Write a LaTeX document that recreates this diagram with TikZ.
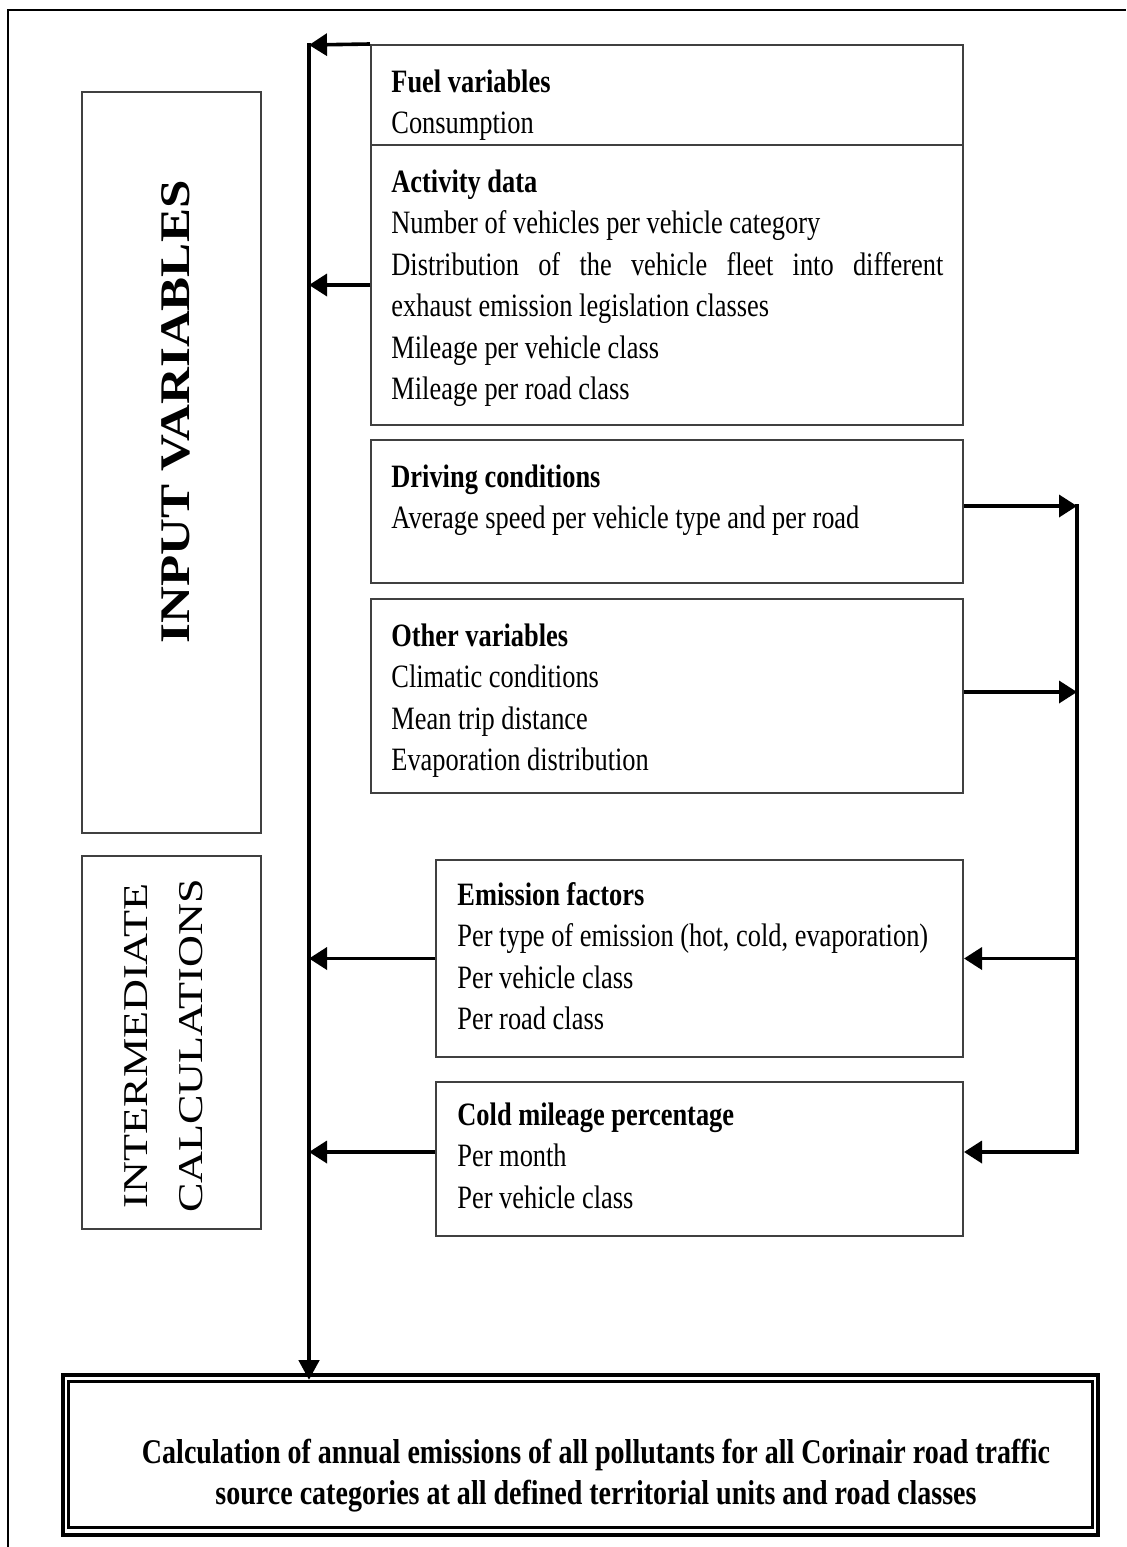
\documentclass[tikz,border=0pt]{standalone}
\usepackage{fontspec}
\setmainfont{Liberation Serif}[FakeStretch=0.81]
\newfontfamily\tallfont{Liberation Serif}[FakeStretch=1.21]
\newfontfamily\tallerfont{Liberation Serif}[FakeStretch=1.27]
\usepackage{tikz}
\usetikzlibrary{arrows.meta,positioning,calc,fit}

\begin{document}
\begin{tikzpicture}[x=0.5pt,y=-0.5pt,
	box/.style={draw=black!75,line width=1pt,inner sep=0pt},
	txt/.style={anchor=base west,inner sep=0pt,text width=280pt,align=left,font=\fontsize{16.3}{20.75}\selectfont,
		execute at begin node={\spaceskip=0pt\xspaceskip=0pt}},
	feed/.style={line width=1.8pt,-{Triangle[length=9pt,width=11pt]}},
	trunk/.style={line width=2.4pt,line cap=rect}]
	\useasboundingbox (0,0) rectangle (1126,1547);
	\draw[line width=1.3pt] (8,1547) -- (8,10) -- (1126,10);
	
	\node[box,fit={(82,92) (261,833)}] (inbox) {};
	\node[box,fit={(82,856) (261,1229)}] (calcbox) {};
	\node[rotate=90,font=\tallfont\bfseries\fontsize{21.1}{25}\selectfont] (inlabel) at (176,412) {INPUT VARIABLES};
	\node[rotate=90,align=center,font=\tallerfont\fontsize{17.4}{27.5}\selectfont] (calclabel) at (164,1046) {INTERMEDIATE\\CALCULATIONS};
	
	\node[box,fit={(371,45) (963,145)}] (fuel) {};
	\node[box,fit={(371,145) (963,425)}] (act) {};
	\node[box,fit={(371,440) (963,583)}] (drive) {};
	\node[box,fit={(371,599) (963,793)}] (other) {};
	\node[box,fit={(436,860) (963,1057)}] (emis) {};
	\node[box,fit={(436,1082) (963,1236)}] (cold) {};
	
	\node[txt] (fueltxt) at (391,92) {\textbf{Fuel variables}\\Consumption};
	\node[txt,text width=276pt] (acttxt) at (391,192) {\textbf{Activity data}\\Number of vehicles per vehicle category\\\makebox[276pt][s]{Distribution of the vehicle fleet into different}\\exhaust emission legislation classes\\Mileage per vehicle class\\Mileage per road class};
	\node[txt] (drivetxt) at (391,487) {\textbf{Driving conditions}\\Average speed per vehicle type and per road};
	\node[txt] (othertxt) at (391,646) {\textbf{Other variables}\\Climatic conditions\\Mean trip distance\\Evaporation distribution};
	\node[txt] (emistxt) at (457,905) {\textbf{Emission factors}\\Per type of emission (hot, cold, evaporation)\\Per vehicle class\\Per road class};
	\node[txt] (coldtxt) at (457,1125) {\textbf{Cold mileage percentage}\\Per month\\Per vehicle class};
	
	\node[draw,line width=2pt,inner sep=0pt,fit={(63,1375) (1098,1535)}] (resout) {};
	\node[draw,line width=1.5pt,inner sep=0pt,fit={(68.5,1381.5) (1092,1527)}] (result) {};
	\node[inner sep=0pt,align=center,font=\bfseries\fontsize{17.3}{20.5}\selectfont] (restxt) at (596,1476) {Calculation of annual emissions of all pollutants for all Corinair road traffic\\source categories at all defined territorial units and road classes};
	
	\coordinate (ltop) at (309,45);
	\coordinate (rtop) at (1077,506);
	\coordinate (rmid) at (1077,692);
	\coordinate (rbot) at (1077,1152);
	
	\draw[trunk,-{Triangle[length=10pt,width=10pt]}] (ltop) -- (ltop |- result.north);
	\draw[trunk] (rtop) -- (rbot);
	
	\draw[feed] (fuel.north west) -- (ltop);
	\draw[feed] (act.west) -- (act.west -| ltop);
	\draw[feed] (drive.east |- rtop) -- (rtop);
	\draw[feed] (other.east |- rmid) -- (rmid);
	\draw[feed] (emis.east -| rtop) -- (emis.east);
	\draw[feed] (rbot) -- (cold.east |- rbot);
	\draw[feed] (emis.west) -- (emis.west -| ltop);
	\draw[feed] (cold.west |- rbot) -- (rbot -| ltop);
\end{tikzpicture}
\end{document}
